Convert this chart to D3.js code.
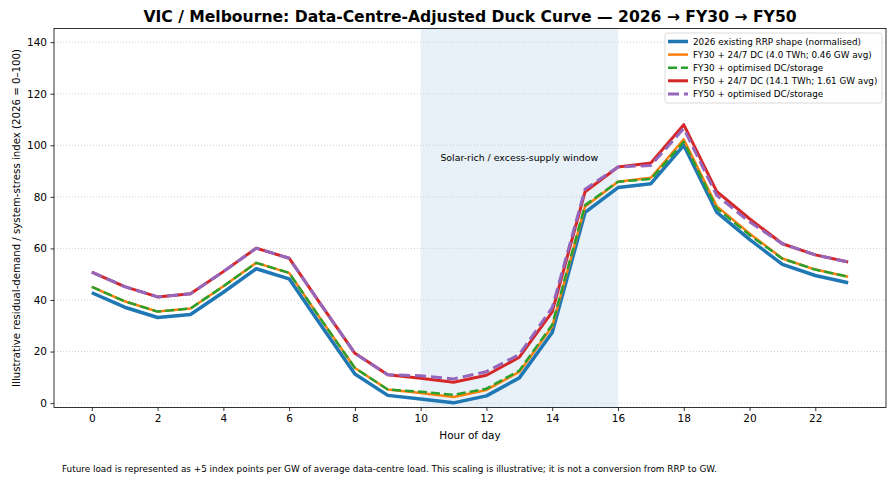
<!DOCTYPE html>
<html>
<head>
<meta charset="utf-8">
<script src="https://cdn.jsdelivr.net/npm/d3@7"></script>
<style>
  body { margin: 0; background: #fff; }
  svg text { font-family: "DejaVu Sans", sans-serif; fill: #000; }
</style>
</head>
<body>
<div id="chart"></div>
<script>
const hours = d3.range(0, 24);

const base2026 = [42.8, 37.2, 33.2, 34.4, 43.0, 52.1, 48.2, 29.6, 11.3, 3.0, 1.6, 0.1,
  2.8, 9.8, 27.4, 74.0, 83.6, 85.1, 100.0, 74.1, 63.5, 53.8, 49.5, 46.7];
const fy30Flat = [45.1, 39.5, 35.5, 36.7, 45.3, 54.4, 50.5, 31.9, 13.6, 5.3, 3.9, 2.4,
  5.1, 12.1, 29.7, 76.3, 85.9, 87.4, 102.3, 76.4, 65.8, 56.1, 51.8, 49.0];
const fy30Opt = [45.1, 39.5, 35.5, 36.7, 45.3, 54.4, 50.5, 31.9, 13.6, 5.3, 4.4, 3.2,
  5.6, 12.6, 30.4, 76.8, 85.9, 86.9, 101.3, 75.6, 65.2, 56.0, 51.8, 49.0];
const fy50Flat = [50.8, 45.2, 41.2, 42.4, 51.0, 60.1, 56.2, 37.6, 19.3, 11.0, 9.6, 8.1,
  10.8, 17.8, 35.4, 82.0, 91.6, 93.1, 108.0, 82.1, 71.5, 61.8, 57.5, 54.7];
const fy50Opt = [50.8, 45.2, 41.2, 42.4, 51.0, 60.1, 56.2, 37.6, 19.3, 11.0, 10.6, 9.4,
  12.2, 18.9, 37.0, 83.0, 91.6, 92.2, 106.5, 80.6, 70.3, 61.8, 57.5, 54.7];

const xTicks = [0, 2, 4, 6, 8, 10, 12, 14, 16, 18, 20, 22];
const yTicks = [0, 20, 40, 60, 80, 100, 120, 140];
const solarWindow = [10, 16];

const series = [
  { name: '2026 existing RRP shape (normalised)', values: base2026, color: '#1f77b4', width: 3.5, dash: null },
  { name: 'FY30 + 24/7 DC (4.0 TWh; 0.46 GW avg)', values: fy30Flat, color: '#ff7f0e', width: 2.5, dash: null },
  { name: 'FY30 + optimised DC/storage', values: fy30Opt, color: '#2ca02c', width: 2.5, dash: '9,4' },
  { name: 'FY50 + 24/7 DC (14.1 TWh; 1.61 GW avg)', values: fy50Flat, color: '#d62728', width: 3, dash: null },
  { name: 'FY50 + optimised DC/storage', values: fy50Opt, color: '#9467bd', width: 3, dash: '11,5' }
];

const width = 891;
const height = 481;
const margin = { top: 28.5, right: 5, bottom: 73.5, left: 54 };

const svg = d3.select('#chart').append('svg')
  .attr('width', width)
  .attr('height', height);

const x = d3.scaleLinear()
  .domain([-1.15, 24.15])
  .range([margin.left, width - margin.right]);

const y = d3.scaleLinear()
  .domain([-1.7, 145.3])
  .range([height - margin.bottom, margin.top]);

// shaded solar window
svg.append('rect')
  .attr('x', x(solarWindow[0]))
  .attr('y', margin.top)
  .attr('width', x(solarWindow[1]) - x(solarWindow[0]))
  .attr('height', y.range()[0] - margin.top)
  .attr('fill', '#1f77b4')
  .attr('fill-opacity', 0.1);

// grid
svg.append('g')
  .selectAll('line')
  .data(yTicks)
  .join('line')
  .attr('x1', margin.left)
  .attr('x2', width - margin.right)
  .attr('y1', d => y(d))
  .attr('y2', d => y(d))
  .attr('stroke', '#c8c8c8')
  .attr('stroke-width', 0.8)
  .attr('stroke-dasharray', '1,2');

svg.append('text')
  .attr('x', x(13))
  .attr('y', y(95) + 3)
  .attr('text-anchor', 'middle')
  .style('font-size', '9.4px')
  .text('Solar-rich / excess-supply window');

const line = d3.line()
  .x((d, i) => x(hours[i]))
  .y(d => y(d));

svg.append('g')
  .selectAll('path')
  .data(series)
  .join('path')
  .attr('d', d => line(d.values))
  .attr('fill', 'none')
  .attr('stroke', d => d.color)
  .attr('stroke-width', d => d.width)
  .attr('stroke-dasharray', d => d.dash)
  .attr('stroke-linejoin', 'round');

// axes
const xAxis = svg.append('g')
  .attr('transform', `translate(0, ${y.range()[0]})`)
  .call(d3.axisBottom(x).tickValues(xTicks).tickSize(3.5).tickPadding(3.5));

const yAxis = svg.append('g')
  .attr('transform', `translate(${margin.left}, 0)`)
  .call(d3.axisLeft(y).tickValues(yTicks).tickSize(3.5).tickPadding(3.5));

[xAxis, yAxis].forEach(g => {
  g.selectAll('text').style('font-size', '10.5px').style('font-family', '"DejaVu Sans", sans-serif');
  g.select('.domain').remove();
  g.selectAll('.tick line').attr('stroke', '#000').attr('stroke-width', 0.8);
});

svg.append('rect')
  .attr('x', margin.left)
  .attr('y', margin.top)
  .attr('width', width - margin.right - margin.left)
  .attr('height', y.range()[0] - margin.top)
  .attr('fill', 'none')
  .attr('stroke', '#000')
  .attr('stroke-width', 0.8);

// legend
const legend = svg.append('g').attr('transform', 'translate(665, 33)');
legend.append('rect')
  .attr('width', 217)
  .attr('height', 70)
  .attr('rx', 2.5)
  .attr('fill', '#fff')
  .attr('fill-opacity', 0.8)
  .attr('stroke', '#d0d0d0')
  .attr('stroke-width', 0.8);

const items = legend.selectAll('g.item')
  .data(series)
  .join('g')
  .attr('class', 'item')
  .attr('transform', (d, i) => `translate(0, ${8.5 + i * 13.1})`);

items.append('line')
  .attr('x1', 3)
  .attr('x2', 23)
  .attr('stroke', d => d.color)
  .attr('stroke-width', d => d.width)
  .attr('stroke-dasharray', d => d.dash);

items.append('text')
  .attr('x', 28)
  .attr('y', 3.3)
  .style('font-size', '8.8px')
  .text(d => d.name);

// titles
svg.append('text')
  .attr('x', (margin.left + width - margin.right) / 2)
  .attr('y', 22)
  .attr('text-anchor', 'middle')
  .style('font-size', '15.6px')
  .style('font-weight', 'bold')
  .text('VIC / Melbourne: Data-Centre-Adjusted Duck Curve — 2026 → FY30 → FY50');

svg.append('text')
  .attr('x', (margin.left + width - margin.right) / 2)
  .attr('y', 439)
  .attr('text-anchor', 'middle')
  .style('font-size', '10.5px')
  .text('Hour of day');

svg.append('text')
  .attr('transform', `translate(20, ${(margin.top + y.range()[0]) / 2}) rotate(-90)`)
  .attr('text-anchor', 'middle')
  .style('font-size', '10.2px')
  .text('Illustrative residual-demand / system-stress index (2026 = 0–100)');

svg.append('text')
  .attr('x', 62)
  .attr('y', 472)
  .style('font-size', '8.85px')
  .text('Future load is represented as +5 index points per GW of average data-centre load. This scaling is illustrative; it is not a conversion from RRP to GW.');
</script>
</body>
</html>
